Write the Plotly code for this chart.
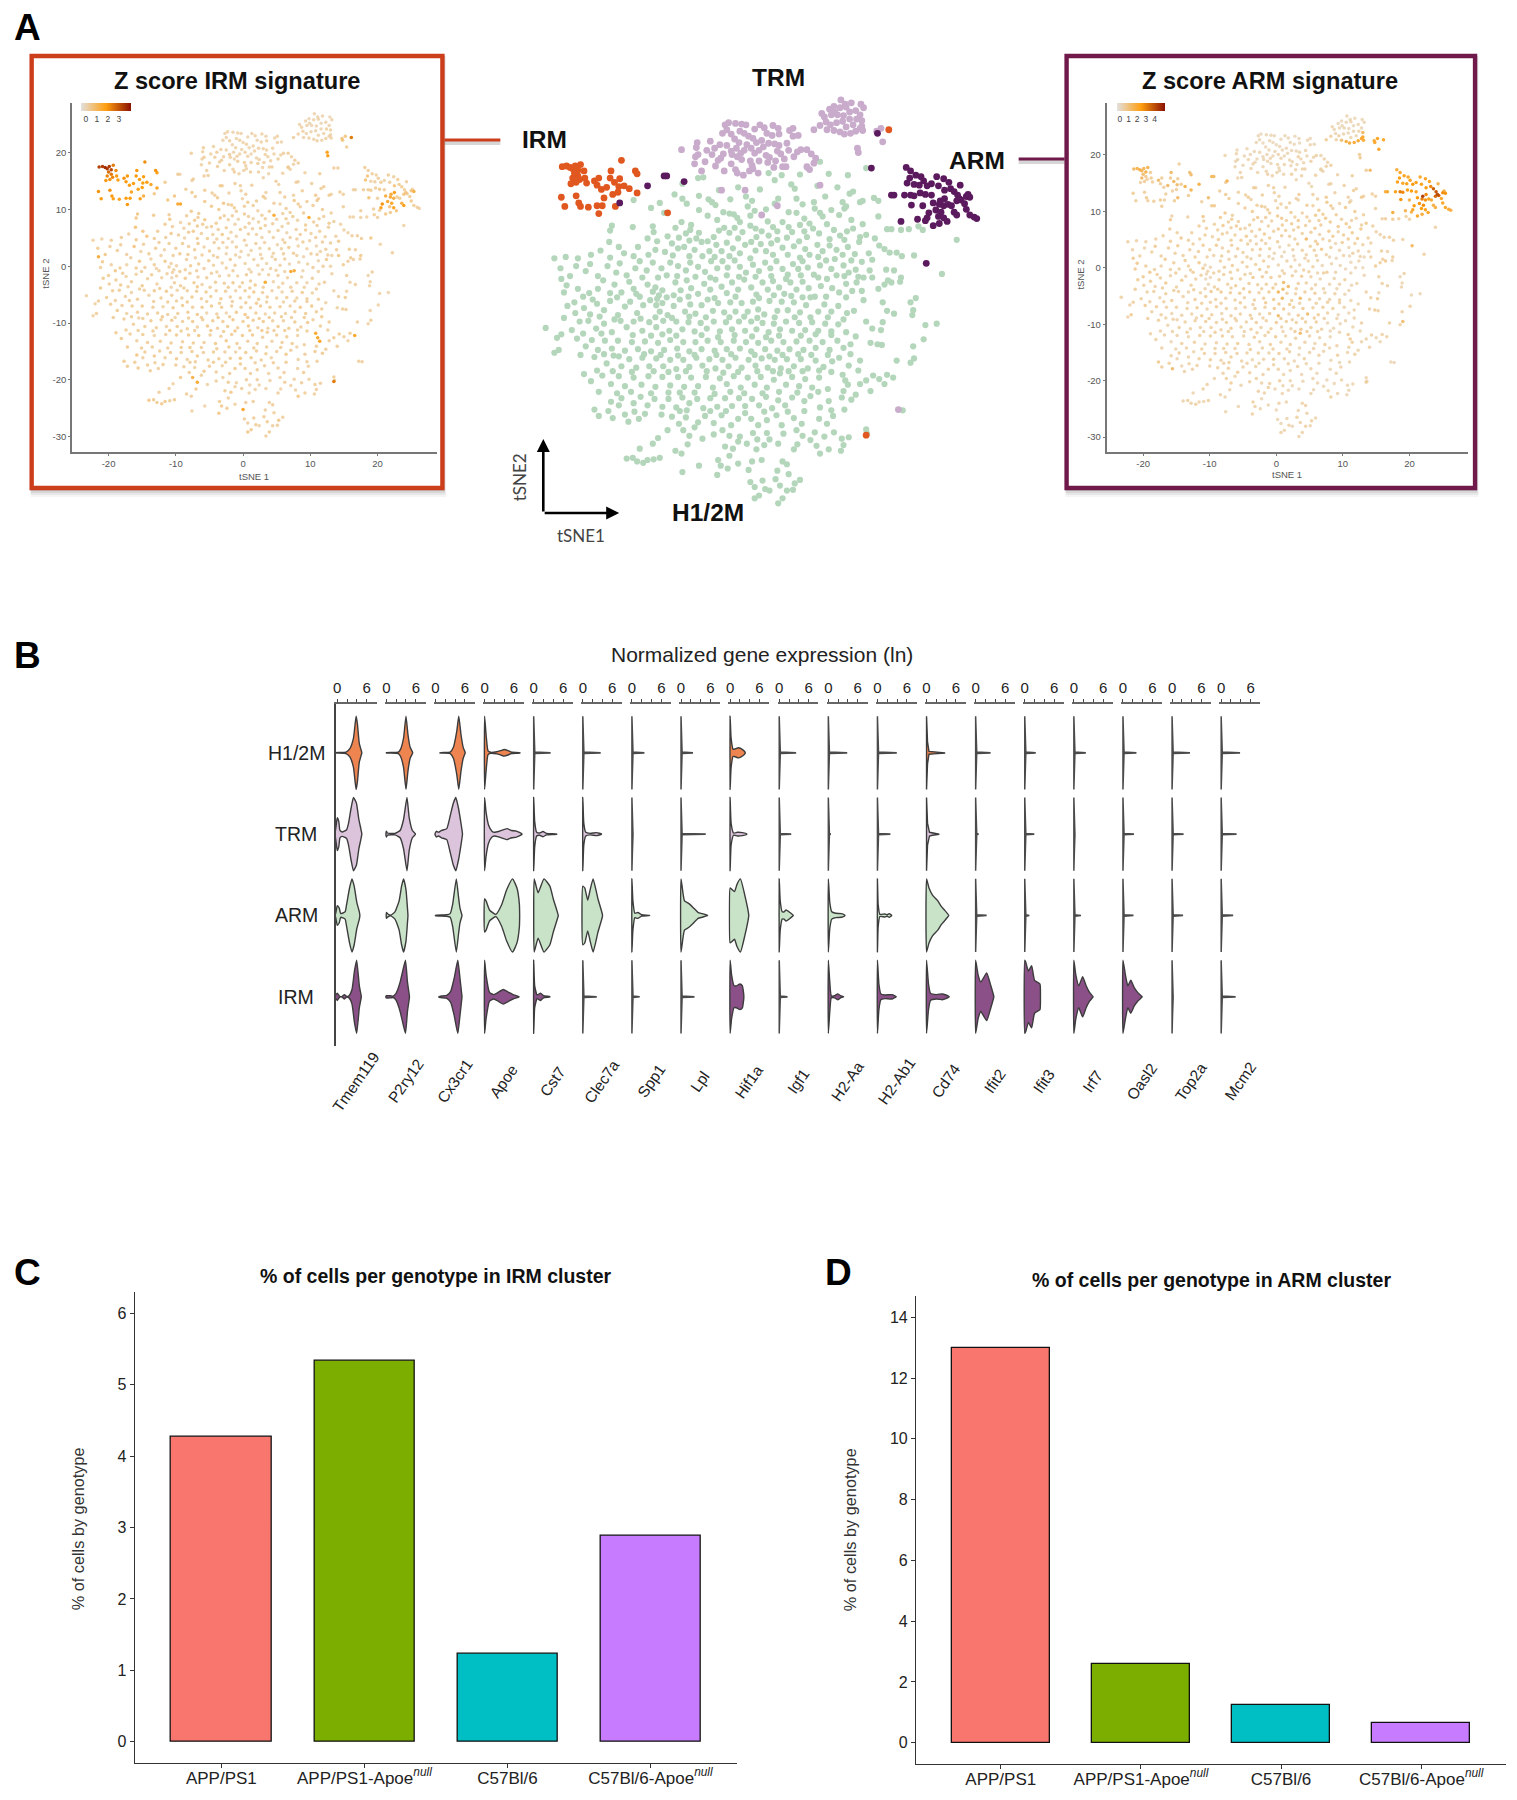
import plotly.graph_objects as go

W, H = 1517, 1800
FONT = "Liberation Sans"

# ---- Panel A: one t-SNE embedding, (tSNE1, tSNE2, IRM z x10, ARM z x10)
h12m_cells = [
(2.3,16.6,3,6),(3.8,16.3,2,5),(3.0,15.6,3,4),(4.9,15.0,4,3),(5.9,16.4,3,6),(9.2,16.5,3,5),(11.4,16.3,5,7),(6.7,17.4,3,4),(8.2,18.2,4,6),(13.5,17.3,4,8),
(-5.8,15.9,4,4),(-5.2,16.0,4,5),(-7.6,15.1,3,5),(-1.2,14.6,4,6),(-3.4,14.2,6,7),(8.8,13.3,4,5),(12,14,5,6),(11.6,13.7,4,7),(12.8,12.5,5,8),(13.1,12.7,3,6),
(3.4,13,3,7),(3.0,12.3,6,5),(5.5,13,4,6),(6.2,12.2,5,7),(7.5,12.5,3,8),(7.6,11.6,6,9),(8.2,11,5,8),(8.5,10.5,4,5),(10.8,12.5,6,5),(11,11.6,5,6),(11.2,11.9,4,4),
(10.4,10.7,5,9),(14.9,10.5,4,6),(15.9,8.7,3,5),(16.4,8.7,3,7),(17.5,8.6,3,8),(18.4,8.7,3,7),(19.5,9.1,5,6),(20,8.6,4,6),(23.9,7.2,3,5),(-10.2,12.4,8,10),(-9.7,11,14,9),
(-8.5,13.6,4,7),(-7.6,13,6,8),(-7.1,12.3,5,7),(-4.6,12.9,5,6),(-4.2,12.5,4,7),(-3.8,12.1,6,5),(-2.9,11.1,7,7),(-2.2,10.9,4,8),(-1.7,10.8,6,6),(-1.3,10.3,5,7),(-0.1,11.9,3,5),(0.4,12.7,4,6),(0.7,11.3,5,7),(0.2,10.6,4,6),
(-13.2,12.8,7,9),(-11.2,11.7,8,6),(-15.7,9.2,7,5),(-15.9,8.5,8,8),(-13.3,9,6,6),(-11,9.1,5,9),(-10.9,8.3,7,6),(-8.4,8.9,4,8),(-7.7,9.7,6,9),(-6.6,9.3,5,6),(-6.7,8.6,4,7),(-7.2,8.1,6,6),(-8,7.5,5,8),(-5.7,8.2,7,5),(-6.0,7.4,5,7),(-5.4,6.9,3,7),
(-4.7,7,5,5),(-3.4,8.5,6,6),(-2.8,8.9,4,8),(-2.2,8.2,3,5),(-1.6,8.9,4,7),(-0.7,8.3,2,5),(0.2,9.2,5,9),(0.8,8.8,4,8),(1.5,8.4,3,6),(2.2,9.8,3,7),(2.8,9,4,6),(3.3,8.4,4,8),(3.9,9.7,5,5),(4.6,9.0,13,7),(5.0,8.3,4,6),(5.9,9.3,4,8),(6.4,8.4,5,7),
(7,9.5,4,7),(7.4,8.8,5,9),(8.1,8.1,3,8),(9.8,8.6,14,6),(9,9.4,5,7),(10.5,7.8,4,9),(11.3,8.4,5,5),(12,8.8,4,4),(12.8,7.6,5,6),(12.7,6.9,4,9),(13.5,7.9,4,8),(15,6.4,3,5),(15.6,5.9,3,5),(16.2,5.4,4,6),(17,5.4,4,7),(17.6,4.9,5,6),(19,5,7,5),
(-16,6.9,9,7),(-12.7,6.2,5,6),(-10.5,7,4,6),(-10.7,5.8,6,7),(-14.3,5.3,8,9),(-17,5.7,4,6),(-18.1,5.1,5,5),(-22.3,4.6,3,6),(-21,4.8,3,5),(-9.6,5.5,4,5),(-8.8,6.7,3,6),(-8.1,6,5,7),(-7.4,6.2,6,5),(-6.2,5.8,4,6),(-5.3,4.9,5,7),(-4.5,5.6,3,8),(-3.7,6.5,4,6),(-3.1,5.6,6,5),(-2.5,6.8,4,7),(-1.8,6.0,3,8),(-1.0,5.3,2,6),(-0.4,6.5,5,6),(0.3,6.9,3,8),(0.8,5.7,4,7),(1.4,6.6,4,7),(2.0,5.6,3,5),(2.6,6.7,5,6),(3.3,7.2,4,7),(3.9,6.1,3,6),(4.5,5.1,3,11),(5.2,6.3,4,7),(5.8,7,3,8),(6.5,5.9,2,5),(7,5.1,3,6),(7.9,6.5,3,9),(8.5,5.6,4,7),(9.3,6.4,5,5),(10.1,5.8,3,7),(10.8,5.1,4,8),(11.4,6.2,4,8),(12.2,5.2,3,9),(13,4.1,4,5),(13.8,5.3,3,6),(14.2,4.4,6,5),(15.8,3,5,6),(16.7,2.9,4,5),(17.5,1.9,6,7),(22.2,2.4,4,6),
(-21.6,3.2,5,5),(-19.8,3.5,4,4),(-18.7,2.8,5,6),(-18.2,3.8,5,8),(-16.2,3.5,8,7),(-15.2,2.6,3,6),(-14.8,3.9,4,8),(-13,3.2,5,6),(-12.5,4.2,4,6),(-11.7,2.9,3,7),(-11,4,5,7),(-10,3.2,4,6),(-9.4,2.2,6,5),(-9,4,5,8),(-8.1,3.5,4,5),(-7.2,2.9,5,6),(-6.7,4,6,6),(-5.8,3.4,3,7),(-5,2.7,5,5),(-4.3,4.2,4,7),(-3.6,3.2,3,6),(-3,4.2,4,5),(-2.4,3.3,3,7),(-1.6,4.3,2,5),(-1,3.4,5,6),(-0.3,2.6,3,3),(0.5,3.7,2,3),(1.2,2.8,3,2),(1.9,4,4,4),(2.5,3.2,2,5),(3.2,4.2,3,7),(3.9,3.1,4,6),(4.5,2.3,3,4),(5.1,3.8,2,6),(5.7,3.1,3,6),(6.2,4.2,4,8),(6.8,3.3,5,9),(7.5,2.3,4,5),(8.2,3.6,3,6),(8.9,4.3,4,3),(9.5,3.1,3,4),(10.1,2.2,5,5),(10.9,3.6,2,3),(11.5,2.6,3,5),(12.3,3,4,5),(13.2,1.9,3,3),(13.9,2.9,5,4),(14.2,1.9,7,6),(16,1.5,4,6),
(-21.5,1.7,13,8),(-20.9,0.8,6,9),(-21.2,-0.2,5,8),(-19.6,0.3,4,7),(-19,-0.8,7,9),(-18.3,-0.3,5,6),(-17.3,0.3,3,5),(-16.7,1.5,4,8),(-15.9,-0.3,5,6),(-15.4,0.9,7,7),(-14.6,-0.2,4,6),(-13.7,1.3,3,8),(-13.2,0.3,5,6),(-12.5,-0.8,4,7),(-11.6,0.9,6,9),(-11,-0.1,4,8),(-10.3,-0.6,3,4),(-10.7,0.5,3,3),(-9.9,0.1,3,3),(-9.4,-0.9,5,6),(-8.4,1.2,4,6),(-7.8,0.1,5,6),(-7.1,1.5,3,5),(-6.6,0.4,5,7),(-5.8,-0.4,4,6),(-5.1,1,6,5),(-4.4,0.2,3,6),(-3.8,1.6,4,5),(-3.1,0.6,3,6),(-2.5,-0.3,4,8),(-1.9,1.2,5,7),(-1.2,0.2,4,6),(-0.5,1.6,2,3),(0.3,0.5,3,4),(0.9,-0.5,2,4),(1.6,1.2,3,5),(2.2,0.2,3,6),(2.8,1.4,3,4),(3.5,0.5,2,4),(4.1,-0.4,3,6),(4.8,1.2,4,5),(5.5,0.2,3,5),(6.2,1.3,4,4),(6.9,0.4,2,3),(7.6,-0.8,13,7),(8.3,0.7,2,4),(9,1.7,2,2),(9.6,0.4,3,3),(10.4,-0.2,4,2),(11.2,1,2,2),(11.9,0,4,3),(12.4,1.2,6,4),(13,0,3,2),(14.9,0.3,5,8),(15.6,0.9,4,7),(16.4,1.2,4,9),(17.4,1.3,5,5),
(-23.3,-5.2,3,6),(-22.3,-8.7,3,5),(-21.8,-8.3,4,9),(-22,-6.6,3,5),(-20.8,-2.1,6,8),(-20,-1.6,5,8),(-19.9,-3.1,4,6),(-18.9,-2.4,5,7),(-18.2,-3.3,6,5),(-17.4,-1.8,3,6),(-16.6,-2.7,4,8),(-15.9,-1.4,3,5),(-15,-3.4,6,6),(-14.2,-2.2,4,8),(-13.6,-1.5,5,4),(-12.8,-3.1,4,6),(-12.1,-2,3,6),(-11.3,-1.3,4,6),(-10.6,-2,2,2),(-9.9,-1.7,3,2),(-10.2,-2.9,4,3),(-9.3,-3.4,5,6),(-8.6,-2.1,6,7),(-7.9,-1.2,4,6),(-7.3,-2.9,5,5),(-6.7,-1.9,4,6),(-6.1,-3.2,3,7),(-5.4,-2,5,6),(-4.7,-1.2,4,5),(-4.1,-2.8,5,7),(-3.5,-1.7,3,8),(-2.8,-3,4,6),(-2.1,-1.6,3,7),(-1.5,-2.9,6,6),(-0.8,-1.7,3,7),(-0.1,-2.9,4,5),(0.5,-1.5,5,6),(1.1,-2.6,4,10),(1.8,-3.3,6,11),(2.4,-1.4,3,6),(3.3,-2.8,14,6),(3.8,-1.5,3,7),(4.5,-2.7,3,6),(5.2,-1.6,4,5),(5.9,-3,3,5),(6.6,-2,3,4),(7.1,-0.9,14,6),(8,-2.9,3,4),(8.7,-1.9,2,4),(9.5,-2.9,3,5),(10.3,-2.1,4,6),(11.3,-3.1,3,3),(12.1,-2.8,4,4),(15.4,-1.6,4,6),(15.9,-2.8,3,6),(16.7,-3.2,4,5),(18.6,-1.6,2,3),(18.9,-2.7,3,4),(18.8,-3.4,3,4),(19.2,-1,4,5),(21.6,-4.6,2,3),
(-18.4,-4.2,5,6),(-17.5,-5.3,4,4),(-16.6,-4.6,3,6),(-15.7,-5.8,5,7),(-14.7,-4.2,4,6),(-14,-5.1,3,5),(-13.2,-4.3,6,5),(-12.2,-5.6,5,7),(-11.4,-4.4,6,5),(-10.6,-5.1,4,7),(-9.8,-4.2,3,8),(-9.1,-5.6,5,6),(-8.3,-4.3,4,9),(-7.6,-5.4,6,5),(-6.9,-4.4,5,7),(-6.2,-5.7,4,6),(-5.5,-4.5,6,8),(-4.8,-5.3,5,5),(-4,-4.3,4,8),(-3.3,-5.7,6,6),(-2.6,-4.4,5,6),(-1.9,-5.4,4,7),(-1.1,-4.3,3,8),(-0.4,-5.6,4,9),(0.3,-4.3,5,12),(0.9,-5.4,4,11),(1.6,-4.5,6,6),(2.3,-5.8,5,7),(2.9,-4.6,4,5),(3.6,-5.4,5,10),(4.3,-4.3,3,7),(5,-5.6,4,6),(5.8,-4.5,3,7),(6.5,-5.5,5,5),(7.3,-4.4,4,4),(8,-5.6,3,5),(8.8,-4.6,5,6),(9.5,-5.7,4,6),(10.3,-4.7,3,3),(11.2,-5.8,4,4),(13.5,-4.3,3,5),(14.2,-5.3,4,6),(15.4,-4.4,3,3),(15.2,-5.5,5,8),(20.3,-4.8,3,3),
(-19.7,-6.7,5,8),(-18.7,-7.8,6,5),(-18,-6.9,4,7),(-17.3,-8.3,3,6),(-16.5,-7,5,5),(-15.7,-8.1,4,4),(-15,-7,6,6),(-14.2,-8.4,5,5),(-13.4,-7.2,4,6),(-12.7,-8.2,5,5),(-11.9,-7.1,3,7),(-11.2,-8.5,4,8),(-10.4,-7.3,5,5),(-9.7,-8.3,4,6),(-9,-6.9,6,7),(-8.2,-8.1,5,4),(-7.5,-7.2,4,6),(-6.8,-8.5,6,7),(-6.1,-7.2,5,5),(-5.4,-8.2,3,6),(-4.7,-7,6,5),(-3.9,-8.4,4,6),(-3.2,-7.2,5,7),(-2.5,-8.2,3,5),(-1.7,-7,4,6),(-1,-8.1,6,7),(-0.3,-7.2,5,9),(0.3,-8.5,7,10),(1.1,-7.3,4,9),(1.9,-8.2,5,5),(2.6,-7,6,6),(3.3,-8.4,3,7),(4,-7.2,5,8),(4.7,-8.2,4,10),(5.5,-7.1,5,6),(6.3,-8.3,3,7),(7,-7,4,6),(7.7,-8,5,5),(8.5,-7.2,6,6),(9.3,-8.3,5,3),(10.2,-7,7,4),(10.9,-8,5,3),(11.7,-7.5,4,4),(14,-7.3,3,5),(14.8,-7.5,4,8),(15.3,-7.6,4,5),(18.9,-7.8,3,5),(20.1,-6.8,3,6),
(-17.7,-9.3,5,6),(-16.3,-10.2,4,4),(-15.5,-9.1,3,5),(-14.6,-10.6,5,6),(-13.7,-9.6,6,6),(-12.9,-10.8,4,5),(-12.2,-9.4,5,6),(-11.4,-10.6,3,5),(-10.6,-9.5,6,7),(-9.8,-10.6,5,6),(-9,-9.7,4,6),(-8.3,-11,5,5),(-7.5,-9.7,6,6),(-6.8,-10.7,4,7),(-6,-9.4,5,5),(-5.3,-10.5,7,6),(-4.5,-9.6,6,5),(-3.8,-10.9,4,6),(-3,-9.7,5,7),(-2.3,-10.6,6,5),(-1.5,-9.4,7,6),(-0.8,-10.8,4,6),(0,-9.7,5,8),(0.8,-10.5,7,5),(1.5,-9.5,5,7),(2.2,-10.8,4,4),(3,-9.7,6,6),(3.7,-10.9,3,8),(4.4,-9.6,4,7),(5.2,-10.6,6,6),(6,-9.6,4,7),(6.8,-10.9,5,5),(7.7,-9.8,6,3),(8.6,-10.7,4,3),(9.6,-9.9,6,3),(10.4,-9.4,4,4),(11.5,-10.5,5,4),(12.8,-9.8,5,5),(17,-9.8,4,6),(18.6,-10.1,3,5),(19,-9.5,4,10),
(-18.9,-11.7,6,5),(-18.1,-12.7,6,6),(-16.8,-11.9,5,5),(-15.8,-13.1,4,3),(-14.9,-12,5,5),(-14.2,-13.4,5,6),(-13.2,-12.2,3,4),(-12.3,-13.2,5,6),(-11.5,-12,4,7),(-10.7,-13.5,5,5),(-9.9,-12.1,6,6),(-9,-13.3,4,5),(-8.1,-12.1,6,7),(-7.4,-13.5,5,6),(-6.6,-12.2,7,5),(-5.8,-13.4,4,7),(-4.9,-12.1,5,5),(-4.1,-13.6,6,6),(-3.3,-12.3,4,7),(-2.5,-13.1,7,5),(-1.7,-12,5,5),(-0.9,-13.6,5,7),(-0.1,-12.2,6,8),(0.7,-13.2,4,5),(1.4,-12.1,6,4),(2.1,-13.6,5,6),(2.9,-12.5,4,6),(3.6,-11.6,5,11),(4.3,-13.2,3,5),(5,-12.1,5,6),(5.8,-13.4,4,4),(6.5,-12.4,5,4),(7.3,-13.6,5,7),(8.1,-12.2,3,3),(10.8,-11.8,14,7),(11.1,-12.6,15,8),(11.4,-13.2,16,6),(12.8,-13.1,4,4),(13.5,-12.6,5,5),(14.3,-11.9,5,6),(15,-12.4,4,4),(15.6,-13.1,3,3),(15.9,-11.8,5,5),(16.6,-12.2,15,5),
(-17.7,-16.7,6,9),(-17.2,-17.6,5,7),(-15.8,-15.6,8,5),(-14.9,-16.1,4,4),(-14.6,-15.1,5,7),(-13.2,-15.8,6,5),(-12.4,-14.9,5,4),(-11.6,-16.1,4,6),(-10.8,-15.2,5,6),(-9.9,-16.3,6,7),(-9.2,-15.2,5,5),(-8.3,-16.4,4,5),(-7.6,-15,5,6),(-6.8,-15.8,6,7),(-5.9,-15.2,4,5),(-5.2,-16.5,5,5),(-4.4,-15.1,5,6),(-3.6,-16.3,5,4),(-2.7,-15.1,4,6),(-1.9,-16.2,5,5),(-1.1,-15.1,3,5),(-0.4,-16.2,7,7),(0.4,-15.2,6,7),(1.2,-16.1,6,5),(2,-14.9,5,6),(2.7,-16.5,4,4),(3.4,-15.4,5,3),(4.2,-16.1,3,6),(5,-15,4,5),(6.4,-15.5,6,5),(7.1,-14.8,4,4),(8.2,-16.4,3,3),(9.2,-15.5,4,6),(10.7,-15,5,4),(11.8,-15.3,6,6),(12.3,-14.6,4,4),(17.7,-16.8,4,3),
(-15.6,-17.9,6,11),(-14.2,-17.4,5,4),(-13.8,-18.4,5,5),(-12.6,-18,4,5),(-11.9,-17.3,5,5),(-8.8,-17.7,4,6),(-8,-18.7,5,5),(-7.2,-17.8,3,6),(-5.8,-18.5,6,7),(-5,-17.6,4,5),(-4,-18.6,4,6),(-3.1,-17.5,3,5),(-2,-18.9,5,5),(-1.2,-18,6,6),(0.3,-18,5,5),(1.1,-18.9,4,4),(2.1,-18.2,5,4),(3.2,-17.5,4,6),(3.8,-18.9,3,3),(5.2,-17.9,4,5),(6.1,-18.7,4,3),(8.1,-18,3,3),(9,-18.7,5,4),(9.7,-17.6,3,5),(13.5,-19.5,5,4),(13.6,-20.1,6,5),
(-9.3,-19.6,6,4),(-7.5,-19.6,11,6),(-6.8,-20.4,14,7),(-6.2,-19.2,4,4),(-4,-20.2,4,5),(-3,-19.6,3,6),(-1,-20.5,3,6),(0.5,-20,4,7),(2.1,-20,4,4),(2.4,-20.9,3,4),(4,-20.1,3,3),(5.5,-19.6,3,4),(6.2,-20.4,4,4),(7.6,-19.9,3,3),(8.7,-20.5,4,3),(9.8,-19.9,3,4),(10.7,-20.8,5,3),(11.5,-20.6,4,4),
(-12.5,-22.2,4,4),(-11,-21.5,4,6),(-10.4,-20.7,3,5),(-7,-21.6,6,4),(-8.4,-22.5,5,5),(-7.7,-22.9,4,4),(-2.7,-21.9,5,5),(-1.8,-22.2,6,5),(-1.2,-21.2,3,6),(-0.2,-21.5,4,4),(0.9,-22.3,3,4),(1.8,-21.7,3,3),(5.2,-22.3,4,4),(5.6,-21.6,3,3),(7.1,-21,3,3),(7.8,-21.8,3,4),(8.2,-22.9,7,6),(9.2,-22.3,5,4),(10.6,-22.5,4,3),(10.9,-21.7,4,3),
(-14,-23.6,7,5),(-13.3,-23.5,6,6),(-12.8,-24,5,5),(-12.1,-24.2,6,6),(-11.6,-23.8,6,5),(-10.9,-23.7,5,4),(-10.2,-23.5,6,6),(-7.6,-25.5,3,4),(-5.7,-24.6,3,4),(-3.5,-23.8,5,6),(-3.2,-24.6,6,5),(-3.6,-25.9,7,6),(-2.4,-25,5,4),(-1.2,-24.3,3,3),(0,-25.2,15,3),(0.4,-24,4,5),(1.5,-23.8,4,4),(-2.2,-23.2,4,3),
(3.9,-24,4,5),(4.4,-24.4,5,5),(3.3,-25.3,4,4),(3.1,-26.5,5,6),(4.6,-25.8,4,4),(3.6,-27.4,5,5),(5.3,-27.1,7,6),(5.9,-26.6,4,4),(0.2,-26.9,5,3),(0.7,-27.6,4,3),(1.6,-26.7,5,4),(1.9,-27.9,5,5),(1.2,-28.8,6,4),(0.7,-29.2,7,5),(4.4,-28.1,4,5),(5.1,-28,4,4),(3.9,-29.2,5,5),(3.4,-29.9,4,4),(2.4,-28.1,3,3),
# second pass: chains between the rows above
(-14.9,6.2,7,6),(-11.6,7.4,5,7),(-9.3,7.7,3,6),(-6.8,7.1,6,6),(-4,7.6,5,7),(-1.2,7.4,3,6),(0.9,7.6,4,7),(2.3,7.8,3,8),(4.4,7.5,4,6),(6.7,7.6,3,7),(9.3,7.3,5,8),(11,7.2,4,7),(14.5,7.4,3,6),(-19.6,4.6,4,5),(-15.9,4.7,6,7),(-13.2,4.9,5,6),(-11.5,5.1,4,6),(-8.7,5,3,7),(-6.8,4.9,5,6),(-3.9,4.8,4,5),(-2.2,4.9,3,6),(0.2,4.6,4,7),(2.8,5.1,3,6),(5.9,4.7,3,7),(8,4.8,4,6),(9.9,4.5,3,7),(11.8,4.3,4,6),(-20.5,2.1,7,6),(-17.3,2.1,4,7),(-14,2.2,5,6),(-12.2,1.9,3,7),(-10.4,1.9,4,6),(-8.2,2.1,5,6),(-6.1,2,4,5),(-4.4,1.9,3,6),(-2.5,2.2,2,5),(-1.1,2,3,4),(0.8,2,2,3),(2.6,2.1,3,3),(4.3,1.7,2,4),(6,2.2,4,5),(8,1.9,3,3),(11,2.1,3,3),(12.6,2,4,4),(-17.9,-1.2,4,6),(-15.1,-0.9,5,7),(-12.9,-0.4,3,6),(-10.5,-1.1,3,3),(-8.6,-0.6,5,6),(-6.9,-0.8,4,6),(-3.9,-1,3,5),(-1.5,-0.8,4,6),(1.2,-1,3,5),(2.9,-0.6,2,4),(4.9,-0.7,3,6),(6.2,-0.9,3,4),(8.9,-0.8,2,4),(11.2,-0.9,3,3),(-21.2,-3.8,6,7),(-19.4,-4.3,5,5),(-17.1,-3.6,4,6),(-15.4,-4,5,6),(-12.4,-3.9,5,7),(-10.7,-3.7,3,5),(-8.8,-3.8,5,7),(-6.8,-3.6,6,6),(-4.9,-3.7,4,8),(-2.2,-3.7,5,6),(-0.5,-3.6,4,8),(1,-3.8,5,10),(3,-3.7,4,6),(5.3,-3.7,3,6),(7.1,-3.7,4,5),(9.1,-3.7,3,4),(10.9,-4,4,3),(-21.5,-6.1,4,6),(-20.3,-5.5,5,6),(-19,-6,4,5),(-16.9,-6,5,6),(-13.3,-6.2,4,5),(-11.2,-6.3,5,6),(-9.9,-6.1,4,5),(-8.3,-6.3,6,6),(-5.4,-6.2,4,7),(-3.5,-6.5,5,5),(-1.6,-6.2,4,8),(0.4,-6.4,5,9),(2,-6.5,6,8),(3.5,-6.3,4,5),(6,-6.3,3,6),(7.7,-6.1,5,6),(9.5,-6.2,4,5),(12.3,-6.4,3,4),(-19.3,-9,5,7),(-16.6,-8.9,5,5),(-14.9,-9.2,4,5),(-12,-8.9,6,5),(-10.1,-9,3,6),(-8.1,-9.1,5,5),(-6.2,-9,4,5),(-3.7,-9,6,6),(-2,-8.9,5,6),(0.7,-9,6,7),(2.4,-9.2,5,5),(3.9,-9,4,6),(5.7,-8.9,5,7),(7.2,-9,4,5),(9.1,-9,5,4),(11.7,-8.9,6,4),(-17.4,-11.2,5,5),(-15.6,-11.3,4,5),(-13.4,-11.4,5,6),(-10.9,-11.3,6,5),(-9.2,-11.4,5,7),(-7.2,-11.3,4,6),(-4.8,-11.3,6,5),(-2.9,-11.5,5,6),(-1.2,-11.4,7,6),(1,-11.3,5,4),(2.8,-11.3,6,7),(4.6,-11.3,4,6),(6.2,-11.3,5,6),(8.1,-11.2,4,3),(9.5,-11.4,5,4),(12.6,-11.2,4,4),(-17.2,-14.2,6,5),(-15.1,-14.4,5,4),(-13.5,-14.2,5,5),(-11.2,-14.4,4,6),(-9.2,-14.3,5,5),(-7.9,-14.3,6,6),(-6.2,-14.3,4,5),(-3.9,-14.5,5,7),(-2.1,-14.2,6,5),(-0.5,-14.4,4,6),(1.6,-14.4,5,5),(3.5,-14.2,4,4),(5.6,-14.3,5,5),(8,-14.2,3,4),(9.1,-13.8,4,5),(10.9,-14.1,5,4),(14,-14.1,5,5),(-16.1,-16.9,5,6),(-13.1,-17,4,5),(-10,-17.4,5,5),(-7.1,-16.8,4,6),(-4.4,-16.9,5,5),(-2.6,-16.9,5,4),(-0.4,-17.2,6,5),(1.8,-17,4,5),(4.5,-17,4,4),(6.4,-16.9,5,4),(9.5,-16.8,4,3),(11,-16.7,4,4),(-7.9,-16.9,4,5),(-5.3,-20.8,3,4),(-2.2,-20.4,5,5),(3.4,-21.5,3,3),(1,-20.9,3,4),(13.2,-1.3,3,3),(10.2,14.6,4,6),(7.9,14.8,4,5),(5.3,14.4,3,4),(1.3,14.3,4,5),(-0.3,13.3,4,6),(-2.1,12.9,4,7),(-5.7,13.4,5,6),(2,11.5,5,6),(4.6,11.1,4,7),(5.5,11,3,6),(6.4,10.2,4,8),(9.5,11.4,4,5),(11.8,10,5,8),(13.1,9.4,4,6),(-4.7,10.6,6,7),(-3.6,10,5,8),(-5.7,11.4,6,6),(-1,9.7,4,7),(14.4,13.1,5,7),(14.9,12.7,4,6),
]
irm_cells = [
(-21.4,17.5,33,12),(-20.9,17.6,34,14),(-20.5,17.4,36,16),(-20.2,17.2,35,14),(-19.9,17.6,34,13),(-19.6,17.0,32,15),(-19.3,17.8,24,14),(-20,16.6,26,10),(-19.6,16.2,24,9),(-20.2,15.9,22,11),(-19.4,15.7,22,7),(-19.8,15.3,20,8),(-20.4,15.1,19,6),(-18.9,16.9,21,8),(-18.8,15.9,19,9),(-18.6,15.2,18,7),(-17.7,15.5,20,10),(-17.4,14.9,19,8),(-17.2,15.9,19,8),(-16.9,14.3,18,7),(-16.3,14.6,18,11),(-15.9,15.9,19,9),(-15.8,16.9,19,11),(-15.4,15.3,18,12),(-14.8,15.8,18,8),(-14.9,14.7,18,10),(-14.3,14.8,18,9),(-15,13.9,18,7),(-15.6,13.6,17,6),(-14.6,18.4,21,7),(-13,16.9,20,10),(-12.8,16.5,18,11),(-13.7,14.4,15,14),(-12.8,13.8,16,14),(-21.5,13.2,20,8),(-19.8,13.4,20,7),(-19.5,12.4,19,9),(-19.3,11.9,17,6),(-18.4,11.8,16,7),(-17.4,12,18,8),(-16.8,12,18,6),(-17.2,10.9,19,7),(-16.6,13.1,16,7),(-21.1,11.9,19,7),(-15.3,11.9,17,8),
(-9.3,11,14,9),(16.1,22.7,24,20),(13.5,-20.3,24,5),
]
trm_cells = [
(-2.7,23.4,2,3),(-2.3,23.7,3,2),(-1.5,23.6,2,3),(-0.8,23.5,3,3),(-0.3,23.4,2,2),(-2.5,22.7,2,3),(-2,22.1,3,2),(-1.6,21.4,2,3),(-1,22.5,2,3),(-0.5,22.2,3,2),(0,21.8,2,2),(0.5,21.5,3,3),(0.7,22.8,2,2),(1.3,23.4,2,3),(1.8,23,3,3),(2.8,23.3,3,2),(3.4,22.9,2,3),(2.1,22.2,2,3),(2.7,21.9,3,2),(1.5,21.2,3,3),(3.5,22.1,3,2),(4.7,22.6,2,3),(5.1,22.9,3,3),(5.1,21.8,3,4),(5.7,21.9,2,3),(-2.5,20.5,3,4),(-3.3,20.6,3,3),(-4.4,21.1,3,3),(-3.9,20.1,4,3),(-5.9,20.9,4,3),(-6,20.2,3,4),(-7.7,19.9,4,4),(-5.8,19.2,4,3),(-6.1,18.9,3,4),(-5,18.2,4,3),(-5.4,16.9,4,4),(-3.5,18.4,3,4),(-3.2,18.7,4,3),(-2,19.7,4,3),(-1.9,19.2,3,3),(-1.3,18.9,2,4),(-0.9,19.4,3,4),(-0.5,19.8,3,3),(-0.8,18.5,4,3),(-2,17.9,4,3),(-1.5,17.1,3,4),(-1.3,16.6,4,5),(-0.6,16.3,3,5),(0.2,18.3,4,4),(0.4,17.7,3,4),(0.5,17.2,2,3),(0.1,16.9,3,4),(0.7,19.4,3,4),(1.2,19.8,2,3),(1.7,20.3,3,3),(2,19.1,2,3),(2.4,18.8,3,4),(3.3,19.7,3,5),(3.7,19.3,3,4),(3.5,20.5,3,4),(3,20.7,3,3),(2.2,18.1,4,3),(4.3,17.5,4,5),(3.9,17.5,3,4),(2.9,17.4,3,4),(1.1,16.6,4,4),(5.2,18.9,4,5),(5.6,19.6,3,4),(6,19.9,4,5),(6.7,19.9,4,4),(7.2,19.3,3,5),(7.7,18.7,4,4),(7.5,18,3,5),(6.7,17.5,4,4),(7,17.1,3,4),(-6.2,17.9,3,3),
(-1.1,20.9,3,3),(-0.2,20.6,2,3),(0.3,20.1,3,4),(2.3,20.8,3,3),(4.4,20.8,3,4),(4.6,19.8,3,3),(1.2,18.3,3,4),(3.1,18.3,3,3),(-4.2,19.2,3,4),(-2.9,19.3,3,3),(-3.8,17.6,4,4),(-2.8,16.9,3,4),(0.9,20.9,2,3),(-3,22.2,2,3),(-4.8,19.8,3,3),(4.1,18.6,3,4),(-1.4,20.1,2,3),
(10.6,26.9,2,3),(11.8,26.5,2,2),(12.9,26.3,1,3),(13.2,25.8,2,3),(9.3,25.6,2,3),(9.8,26,1,2),(10.5,25.8,2,3),(11.2,25.9,2,4),(11.6,25.2,1,2),(12.3,25.4,2,3),(12.8,24.8,2,3),(8.4,25,2,4),(8.7,24.5,3,3),(9.5,24.8,2,3),(10.2,24.8,1,3),(10.9,24.7,2,3),(11.6,24.2,2,3),(12.4,24.2,3,4),(13,24,3,12),(8.9,23.8,3,3),(9.4,23.4,2,5),(10.1,23.7,2,4),(10.8,23.9,2,3),(8.2,23.3,3,6),(7.5,22.7,4,8),(9,22.7,2,6),(9.8,22.6,3,10),(10.5,22.4,2,16),(11,22.1,3,18),(11.7,22.2,2,18),(12.3,22.5,3,19),(12.8,22.9,2,19),(13,23.2,2,20),(13.1,22.6,3,18),(11.2,23.1,2,4),(12,23.4,2,3),(9.9,25.2,2,3),(11.1,26.3,2,3),
(8.2,14.9,3,5),(-3.1,14.2,4,6),(-0.4,14.2,4,6),(3.3,12,3,5),(1.5,10.7,4,6),(17.2,-16.7,4,3),(12.5,20.1,16,8),(12.6,19.5,17,9),(15.2,22.9,8,20),(14.7,22.5,8,19),(15.4,21,5,20),
]
arm_cells = [
(18.1,17.4,5,18),(18.6,16.9,4,20),(19.2,16.3,4,22),(19.8,16.1,3,21),(20.1,15.5,4,22),(18.5,15.9,8,23),(18.2,15.2,9,22),(19,15,3,20),(19.6,14.9,4,22),(20.5,14.8,5,25),(21,15.1,3,22),(21.6,16.1,5,20),(22.4,15.8,4,21),(23,15.3,5,21),(21.8,14.8,4,22),(22.5,14.2,8,24),(23.2,14.4,5,28),(23.6,14,6,36),(24,13.5,5,38),(24.2,13,7,40),(24.4,12.8,5,37),(23.9,12.7,8,34),(25,13.3,8,27),(25.4,13.2,12,26),(24.8,12.3,5,20),(25,11.5,7,20),(25.4,10.7,5,20),(25.9,10.4,4,18),(26.2,10.2,3,16),(22,12.7,13,42),(21.9,12.2,14,30),(21.2,12.4,12,24),(22.5,13,16,28),(22.4,12,12,26),(21.5,11.4,14,26),(22.1,11.1,15,27),(21.8,10.5,9,24),(22.4,10.3,16,22),(20.7,11,20,24),(20.5,10.3,16,21),(23.6,11.1,12,16),(23.9,10.7,17,17),(22.8,9.8,8,20),(21.9,9.5,6,18),(21.2,9.2,7,20),(19,13.4,6,28),(18.6,13.5,5,30),(17.9,13.5,4,22),(18.7,12.1,9,26),(16.7,13.5,3,19),(16.4,13.5,3,17),(19.7,13.8,5,23),(20.3,13.6,6,24),(24.3,14.9,4,14),(25.2,13.6,3,16),(20,12,4,15),(20.3,9.9,5,15),(19.4,10.1,4,14),(17.5,9.8,4,17),(21,13.5,5,20),(22.9,12.2,6,22),(23.3,12,5,18),
(-9.7,16.2,4,12),(-9.4,16.2,3,13),(-7.4,15.4,4,14),(-14.8,12.4,12,11),(-11.6,14.8,6,15),(14.8,22.2,7,19),(14.1,17.3,4,11),(20.4,3.9,3,12),
]

# ---- Panel B
genes = ["Tmem119","P2ry12","Cx3cr1","Apoe","Cst7","Clec7a","Spp1","Lpl","Hif1a","Igf1","H2-Aa","H2-Ab1","Cd74","Ifit2","Ifit3","Irf7","Oasl2","Top2a","Mcm2"]
rows = ["H1/2M","TRM","ARM","IRM"]
row_fill = ["#EE8450","#DCC4DC","#C8E3C8","#8B5088"]
# (expression, relative half width) for violins with a real body
violin_body = {
("Tmem119",0):[(-0.5,.004),(1.8,.02),(2.6,.12),(3.3,.4),(3.65,.8),(3.85,1),(4.1,.8),(4.5,.25),(5,.01)],
("Tmem119",1):[(-1.2,.005),(-0.5,.03),(0,.45),(0.3,.35),(.55,.1),(1,.06),(1.9,.12),(2.3,.3),(2.8,.7),(3.3,1),(3.9,.85),(4.4,.4),(4.8,.15),(5,.01)],
("Tmem119",2):[(-1.2,.005),(-0.4,.03),(0,.27),(.4,.2),(.7,.05),(1.6,.1),(1.9,.3),(2.5,.75),(3,1),(3.45,.8),(4,.35),(4.5,.1),(4.6,.01)],
("Tmem119",3):[(-.5,.01),(0,.1),(.5,.01),(1,.01),(1.45,.06),(1.9,.01),(2.4,.03),(3,.2),(3.5,.7),(3.95,1),(4.5,.3),(4.9,.01)],
("P2ry12",0):[(0,.004),(2.45,.02),(2.9,.1),(3.5,.4),(4,1),(4.4,.5),(4.85,.15),(5.35,.01)],
("P2ry12",1):[(-.1,.01),(0,.08),(.2,.03),(1.75,.02),(2.8,.1),(3.5,.4),(4.2,1),(4.65,.45),(5.3,.1),(5.9,.01)],
("P2ry12",2):[(0,.08),(.3,.04),(.9,.01),(1.75,.1),(2.6,.4),(3.1,.8),(3.5,1),(4,.7),(4.3,.2),(4.4,.01)],
("P2ry12",3):[(-.1,.01),(0,.03),(.8,.03),(1.4,.02),(2,.1),(2.8,.4),(3.5,.8),(3.9,1),(4.3,.4),(4.7,.02)],
("Cx3cr1",0):[(.9,.005),(3,.02),(3.65,.15),(4.35,.6),(4.75,1),(5.2,.5),(5.65,.15),(6.05,.01)],
("Cx3cr1",1):[(-.1,.01),(.2,.08),(.6,.05),(1.25,.1),(2.3,.15),(3,.5),(3.65,.85),(4.15,1),(4.7,.7),(5.25,.25),(5.5,.01)],
("Cx3cr1",2):[(0,.005),(2.3,.02),(3,.05),(3.5,.3),(4.25,1),(4.7,.5),(5,.2),(5.4,.01)],
("Cx3cr1",3):[(.7,.005),(1,.02),(2.3,.04),(3.1,.15),(3.8,.5),(4.55,1),(5,.5),(5.4,.01)],
("Apoe",0):[(0,1),(.3,.5),(.7,.05),(1.2,.015),(2.5,.03),(3.3,.06),(4,.09),(4.8,.06),(5.5,.02),(7.2,.005)],
("Apoe",1):[(0,1),(.3,.6),(.8,.25),(1.5,.08),(2,.05),(3,.08),(4.6,.15),(5.5,.1),(6.5,.08),(7.6,.01)],
("Apoe",2):[(0,.45),(.3,.4),(1,.15),(2.3,.03),(3.5,.3),(4.5,.7),(5.7,1),(6.6,.75),(7.1,.3),(7.15,.02)],
("Apoe",3):[(0,1),(.3,.6),(1,.12),(1.8,.06),(2.5,.1),(3.8,.2),(4.8,.13),(5.8,.06),(7,.005)],
("Cst7",1):[(0,1),(.2,.35),(.6,.05),(1.2,.03),(1.9,.07),(2.6,.02),(4.7,.004)],
("Cst7",2):[(0,.02),(.1,1),(.9,.62),(2.1,1),(3.3,.8),(4,.45),(4.7,.15),(5,.01)],
("Cst7",3):[(0,1),(.2,.3),(.7,.05),(1.4,.1),(2,.03),(3.3,.004)],
("Clec7a",1):[(0,1),(.2,.3),(.6,.05),(1.5,.02),(2.8,.04),(3.8,.004)],
("Clec7a",2):[(0,.8),(.4,.75),(1,.42),(1.5,.7),(2.1,1),(3.1,.45),(4,.03)],
("Spp1",2):[(0,1),(.2,.4),(.6,.06),(1.2,.08),(2,.02),(3.6,.004)],
("Lpl",2):[(0,1),(.7,.4),(1.55,.33),(2.45,.22),(3.5,.08),(4.3,.05),(5.4,.005)],
("Hif1a",0):[(0,1),(.2,.4),(.6,.1),(.9,.1),(1.7,.14),(2.6,.08),(3.1,.005)],
("Hif1a",1):[(0,1),(.2,.3),(.7,.03),(1.5,.05),(2.5,.04),(3.4,.005)],
("Hif1a",2):[(0,.75),(.3,.72),(.9,.65),(1.4,.85),(2.1,1),(3,.55),(3.8,.01)],
("Hif1a",3):[(0,1),(.3,.6),(.8,.3),(1.3,.3),(2,.35),(2.5,.3),(2.75,.1),(2.8,.01)],
("Igf1",2):[(0,1),(.2,.4),(.6,.1),(1,.1),(1.4,.15),(2.2,.08),(2.85,.005)],
("H2-Aa",2):[(0,1),(.3,.35),(.7,.1),(1.5,.06),(2.7,.05),(3.4,.005)],
("H2-Aa",3):[(0,1),(.3,.4),(.6,.03),(1.3,.03),(1.9,.08),(2.5,.03),(3.1,.004)],
("H2-Ab1",2):[(0,1),(.15,.3),(.5,.03),(1.5,.04),(2,.02),(2.4,.05),(2.9,.004)],
("H2-Ab1",3):[(0,1),(.3,.35),(.7,.08),(1.5,.05),(3,.06),(3.8,.004)],
("Cd74",0):[(0,1),(.2,.3),(.5,.04),(1.5,.03),(3.8,.004)],
("Cd74",1):[(0,1),(.2,.3),(.6,.05),(1.2,.03),(2.6,.004)],
("Cd74",2):[(0,1),(.5,.75),(1.25,.55),(2.3,.4),(3,.25),(3.65,.15),(4.5,.01)],
("Cd74",3):[(0,1),(.4,.35),(.8,.1),(2,.06),(3.2,.08),(3.5,.07),(4.6,.004)],
("Ifit2",3):[(0,1),(.5,.6),(1.05,.4),(2.25,.65),(3.1,.3),(3.7,.01)],
("Ifit3",3):[(0,1),(.2,.95),(.75,.7),(1.4,.85),(2,.45),(3.1,.35),(3.2,.02)],
("Irf7",3):[(0,1),(.4,.6),(1,.3),(1.8,.55),(2.5,.3),(3.2,.12),(3.9,.005)],
("Oasl2",3):[(0,1),(.5,.6),(1,.3),(1.6,.45),(2.3,.25),(3,.12),(3.9,.005)],
}
# spike at zero with a thin tail: end of tail per row (H1/2M, TRM, ARM, IRM); None = has body above
tail_end = {
"Tmem119":[None]*4,"P2ry12":[None]*4,"Cx3cr1":[None]*4,"Apoe":[None]*4,
"Cst7":[3.3,None,None,None],"Clec7a":[3.5,None,None,2.7],"Spp1":[2.4,0.05,None,1.45],"Lpl":[2.3,4.9,None,2.6],
"Hif1a":[None]*4,"Igf1":[3.3,2.3,None,1.55],"H2-Aa":[3.7,.4,None,None],"H2-Ab1":[3.8,2.5,None,None],"Cd74":[None]*4,
"Ifit2":[2.9,.5,2.1,None],"Ifit3":[2.1,1.8,.8,None],"Irf7":[2.3,0.05,1.3,None],"Oasl2":[2.6,2.1,2,None],
"Top2a":[3.5,2.2,2.1,0.05],"Mcm2":[3.7,3,2.3,2.8],
}

# ---- Panels C, D
genotypes = ["APP/PS1","APP/PS1-Apoe<sup><i>null</i></sup>","C57Bl/6","C57Bl/6-Apoe<sup><i>null</i></sup>"]
bar_colors = ["#F8766D","#7CAE00","#00BFC4","#C77CFF"]
irm_pct = [4.27,5.34,1.23,2.88]
arm_pct = [13.0,2.58,1.24,0.64]

def px(x): return x / W
def py(y): return 1 - y / H
def xdom(a, b): return [a / W, b / W]
def ydom(t, b): return [1 - b / H, 1 - t / H]

fig = go.Figure()
layout = {}
shapes, annos = [], []

def text(x, y, s, size, bold=False, color="#111", angle=0, font=FONT):
    annos.append(dict(x=px(x), y=py(y), xref="paper", yref="paper", text=f"<b>{s}</b>" if bold else s,
                      showarrow=False, textangle=angle, xanchor="center", yanchor="middle",
                      font=dict(family=font, size=size, color=color)))

# panel frames with soft shadow
for (a, b, col) in [(29.7, 441, "#CC3D1C"), (1066, 1475, "#6F1A4A")]:
    for off, op in [(9, .05), (7, .07), (5, .09), (3, .12)]:
        shapes.append(dict(type="rect", xref="paper", yref="paper", x0=px(a - 1), x1=px(b + 1 + off * .3), y0=py(56), y1=py(488 + off),
                           fillcolor=f"rgba(60,60,60,{op})", line_width=0, layer="below"))
    shapes.append(dict(type="rect", xref="paper", yref="paper", x0=px(a), x1=px(b), y0=py(56), y1=py(488),
                       fillcolor="white", line=dict(color=col, width=4.4), layer="below"))
for (a, b, yy, col) in [(443, 499, 140, "#CC3D1C"), (1018, 1064, 159, "#6F1A4A")]:
    shapes.append(dict(type="line", xref="paper", yref="paper", x0=px(a), x1=px(b), y0=py(yy + 3), y1=py(yy + 3),
                       line=dict(color="rgba(90,90,90,.25)", width=4), layer="below"))
    shapes.append(dict(type="line", xref="paper", yref="paper", x0=px(a), x1=px(b), y0=py(yy), y1=py(yy),
                       line=dict(color=col, width=3), layer="below"))

# central map
layout["xaxis"] = dict(domain=xdom(530, 990), range=[-24.95, 27.8], visible=False)
layout["yaxis"] = dict(domain=ydom(90, 520), range=[-32.25, 28.3], visible=False)
for cells, col, sz in [(h12m_cells, "#B4D6BB", 6.2), (trm_cells, "#C9ABCC", 6.8), (irm_cells, "#E0571F", 6.8), (arm_cells, "#5C1A5E", 6.8)]:
    fig.add_trace(go.Scatter(x=[c[0] for c in cells], y=[c[1] for c in cells], mode="markers", xaxis="x", yaxis="y",
                             marker=dict(color=col, size=sz, line_width=0), showlegend=False, hoverinfo="skip"))

SCALE = [[0, "#E2E0DE"], [.5, "#FF9F10"], [1, "#8B1000"]]
all_cells = h12m_cells + trm_cells + irm_cells + arm_cells

def feature(n, col, dom_x, rng_x, rng_y, cmin, cmax, ticks, bar_x, bar_w):
    pts = sorted(all_cells, key=lambda c: c[col])
    fig.add_trace(go.Scatter(x=[c[0] for c in pts], y=[c[1] for c in pts], mode="markers", xaxis=f"x{n}", yaxis=f"y{n}",
        marker=dict(color=[c[col] / 10 for c in pts], colorscale=SCALE, cmin=cmin, cmax=cmax, size=3.5, line_width=0,
                    opacity=[.8 if c[col] < 10 else 1 for c in pts],
                    colorbar=dict(orientation="h", x=px(bar_x), xanchor="left", y=py(102.5), yanchor="top", len=bar_w, lenmode="pixels",
                                  thickness=7.5, thicknessmode="pixels", xpad=0, ypad=0, outlinewidth=0, tickvals=ticks, ticklen=0,
                                  tickfont=dict(size=8.5, color="#444", family=FONT))),
        showlegend=False, hoverinfo="skip"))
    ax = dict(showgrid=False, zeroline=False, showline=True, linecolor="#777", linewidth=1.5, ticks="outside", ticklen=2, tickcolor="#777",
              tickfont=dict(size=9.5, color="#555", family=FONT))
    xt, yt = [-20, -10, 0, 10, 20], [-30, -20, -10, 0, 10, 20]
    layout[f"xaxis{n}"] = dict(ax, domain=dom_x, range=rng_x, anchor=f"y{n}", tickvals=xt, ticktext=[str(v) for v in xt])
    layout[f"yaxis{n}"] = dict(ax, domain=ydom(102.5, 452.3), range=rng_y, anchor=f"x{n}", tickvals=yt, ticktext=[str(v) for v in yt])

feature(2, 2, xdom(70, 436), [-25.45, 28.9], [-32.76, 28.86], -0.46, 4.1, [0, 1, 2, 3], 79, 49.7)
feature(3, 3, xdom(1106, 1468.3), [-25.5, 28.85], [-32.7, 29.3], -0.38, 5.15, [0, 1, 2, 3, 4], 1116, 48)

text(235, 81, "Z score IRM signature", 23.6, True)
text(1270, 81, "Z score ARM signature", 23.6, True)
text(252, 476, "tSNE 1", 9.5, color="#555")
text(42.7, 274, "tSNE 2", 9.5, color="#555", angle=-90)
text(1287, 475, "tSNE 1", 9.5, color="#555")
text(1079, 275, "tSNE 2", 9.5, color="#555", angle=-90)
text(778, 77, "TRM", 24.5, True)
text(543, 140, "IRM", 24.5, True)
text(976, 160, "ARM", 24.5, True)
text(707, 513, "H1/2M", 24.5, True)
text(518, 477, "tSNE2", 17, color="#444", angle=-90, font="Lato")
text(580, 535.5, "tSNE1", 17, color="#444", font="Lato")
for (tx, ty, dx, dy) in [(542, 439, 0, 74), (618, 513, -76, 0)]:
    annos.append(dict(x=px(tx), y=py(ty), xref="paper", yref="paper", ax=dx, ay=dy, axref="pixel", ayref="pixel", text="",
                      showarrow=True, arrowhead=2, arrowsize=1, arrowwidth=2.6, arrowcolor="#000"))

text(25.2, 27, "A", 37, True, "#000")
text(25.2, 655, "B", 37, True, "#000")
text(25.2, 1272, "C", 37, True, "#000")
text(838, 1272, "D", 37, True, "#000")

# panel B: violins
text(761, 654.5, "Normalized gene expression (ln)", 21, color="#222")
Y_V = 6
layout[f"yaxis{Y_V}"] = dict(domain=ydom(704, 1046), range=[3.605, -0.6], anchor=f"x{Y_V}", showgrid=False, zeroline=False, showline=True,
                             linecolor="#444", linewidth=1.5, showticklabels=False, ticks="")
HALF = 0.45
for i, g in enumerate(genes):
    n = Y_V + i
    start = 334 + i * 49.17
    layout[f"xaxis{n}"] = dict(domain=xdom(start, start + 41), range=[-0.35, 8], side="top", anchor=f"y{Y_V}", showgrid=False, zeroline=False,
                               showline=True, linecolor="#666", linewidth=1.5, ticks="outside", ticklen=3, tickcolor="#444",
                               tickvals=[0, 6], minor=dict(tickvals=[2, 4], ticks="outside", ticklen=3, tickcolor="#444"),
                               tickfont=dict(size=15, color="#222", family=FONT))
    for r in range(4):
        prof = violin_body.get((g, r))
        smooth = prof is not None and len(prof) >= 6 and max(p[1] for p in prof[1:]) > .25
        tail_only = prof is None
        if prof is None:
            t = tail_end[g][r]
            prof = [(0, 1), (.1, .5), (.22, .02), (max(t, .25), .004)]
        es = [p[0] for p in prof]
        hs = [p[1] * HALF for p in prof]
        xs = es + es[::-1] + [es[0]]
        ys = [r - h for h in hs] + [r + h for h in hs[::-1]] + [r - hs[0]]
        line = dict(color="#4A4A4A" if tail_only else "#3C3C3C", width=1.5 if tail_only else 1.4)
        if smooth:
            line.update(shape="spline", smoothing=0.45)
        fig.add_trace(go.Scatter(x=xs, y=ys, mode="lines", fill="toself", fillcolor=row_fill[r], cliponaxis=False,
                                 line=line, xaxis=f"x{n}", yaxis=f"y{Y_V}", showlegend=False, hoverinfo="skip"))
    annos.append(dict(x=3.8, y=py(1081), xref=f"x{n}", yref="paper", text=g, showarrow=False, textangle=-55, xanchor="center", yanchor="middle",
                      font=dict(family=FONT, size=15.5, color="#222")))
for r, name in enumerate(rows):
    text(294.5, 752.7 + r * 81.35, name, 19.5, color="#222")

# panels C, D
def bars(n, vals, dom_x, dom_y, rng_y, tickvals):
    fig.add_trace(go.Bar(x=[0, 1, 2, 3], y=vals, width=0.7, marker=dict(color=bar_colors, line=dict(color="#111", width=1.3)),
                         xaxis=f"x{n}", yaxis=f"y{n}", showlegend=False, hoverinfo="skip"))
    layout[f"xaxis{n}"] = dict(domain=dom_x, range=[-0.605, 3.605], anchor=f"y{n}", tickvals=[0, 1, 2, 3], ticktext=genotypes, showgrid=False,
                               zeroline=False, showline=True, linecolor="#333", linewidth=1.2, ticks="outside", ticklen=4, tickcolor="#333",
                               ticklabelstandoff=-5, tickfont=dict(size=17, color="#222", family=FONT))
    layout[f"yaxis{n}"] = dict(domain=dom_y, range=rng_y, anchor=f"x{n}", tickvals=tickvals, showgrid=False, zeroline=False, showline=True,
                               linecolor="#333", linewidth=1.2, ticks="outside", ticklen=4, tickcolor="#333",
                               tickfont=dict(size=16, color="#222", family=FONT))

bars(30, irm_pct, xdom(133, 736), ydom(1291.8, 1763), [-0.297, 6.3], [0, 1, 2, 3, 4, 5, 6])
bars(31, arm_pct, xdom(915.2, 1506), ydom(1296, 1764), [-0.7, 14.7], [0, 2, 4, 6, 8, 10, 12, 14])
text(434, 1276, "% of cells per genotype in IRM cluster", 19.5, True)
text(1211, 1280, "% of cells per genotype in ARM cluster", 19.5, True)
text(76.4, 1529, "% of cells by genotype", 16.3, color="#333", angle=-90)
text(849.3, 1530, "% of cells by genotype", 16.3, color="#333", angle=-90)

fig.update_layout(width=W, height=H, margin=dict(l=0, r=0, t=0, b=0), paper_bgcolor="white", plot_bgcolor="white",
                  showlegend=False, shapes=shapes, annotations=annos, bargap=0, **layout)
fig.write_html("out.html", post_script="document.body.style.margin='0';", config={"displayModeBar": False})
